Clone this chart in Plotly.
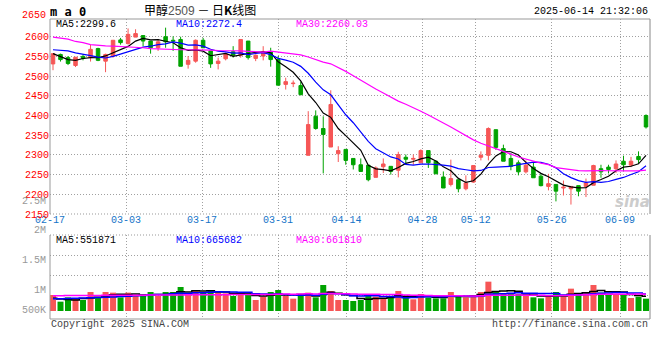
import pandas as pd
import plotly.graph_objects as go

# ---------------- data ----------------
holidays = ["2025-04-04", "2025-05-01", "2025-05-02", "2025-05-05", "2025-06-02"]
dates = [d for d in pd.bdate_range("2025-02-17", "2025-06-13") if d.strftime("%Y-%m-%d") not in holidays]
date_labels = [d.strftime("%m-%d") for d in dates]

tick_labels = ["02-17", "03-03", "03-17", "03-31", "04-14", "04-28", "05-12", "05-26", "06-09"]

open_ = [2531, 2555, 2547, 2527, 2550, 2547, 2570, 2538, 2551, 2592,
         2583, 2599, 2603, 2589, 2572, 2600, 2591, 2593, 2530, 2538,
         2591, 2564, 2532, 2544, 2562, 2553, 2589, 2545, 2551, 2562,
         2542, 2479, 2481, 2476, 2299, 2398, 2367, 2320, 2303, 2314,
         2291, 2275, 2274, 2243, 2270, 2271, 2261, 2294, 2289, 2280,
         2311, 2284, 2244, 2225, 2237, 2214, 2231, 2294, 2299, 2364,
         2316, 2291, 2280, 2257, 2269, 2246, 2220, 2225, 2216, 2214,
         2222, 2220, 2223, 2265, 2269, 2265, 2284, 2274, 2296, 2400]
high = [2557, 2557, 2551, 2548, 2555, 2579, 2572, 2557, 2591, 2597,
        2621, 2619, 2603, 2589, 2593, 2623, 2601, 2600, 2551, 2593,
        2597, 2564, 2547, 2559, 2576, 2594, 2589, 2555, 2576, 2572,
        2551, 2496, 2489, 2486, 2411, 2413, 2398, 2464, 2322, 2314,
        2291, 2291, 2274, 2271, 2291, 2271, 2308, 2301, 2301, 2314,
        2311, 2286, 2258, 2288, 2237, 2248, 2273, 2309, 2370, 2364,
        2326, 2305, 2286, 2286, 2280, 2254, 2252, 2225, 2235, 2220,
        2222, 2240, 2275, 2275, 2275, 2286, 2298, 2295, 2309, 2403]
low = [2515, 2537, 2528, 2523, 2540, 2537, 2538, 2510, 2547, 2580,
       2580, 2599, 2576, 2557, 2564, 2572, 2564, 2525, 2519, 2534,
       2572, 2521, 2517, 2540, 2547, 2547, 2542, 2538, 2540, 2524,
       2477, 2466, 2472, 2451, 2299, 2364, 2253, 2320, 2282, 2275,
       2263, 2258, 2233, 2243, 2254, 2250, 2243, 2275, 2275, 2280,
       2267, 2252, 2216, 2220, 2205, 2210, 2229, 2286, 2286, 2313,
       2284, 2261, 2248, 2253, 2242, 2220, 2210, 2182, 2197, 2174,
       2195, 2193, 2223, 2242, 2253, 2254, 2258, 2269, 2277, 2367]
close = [2557, 2542, 2532, 2548, 2545, 2568, 2540, 2555, 2591, 2585,
         2606, 2608, 2589, 2572, 2587, 2587, 2589, 2525, 2540, 2591,
         2572, 2531, 2538, 2556, 2553, 2593, 2547, 2553, 2562, 2542,
         2477, 2486, 2482, 2453, 2377, 2367, 2352, 2428, 2311, 2286,
         2275, 2258, 2237, 2267, 2277, 2258, 2301, 2289, 2291, 2311,
         2280, 2252, 2216, 2240, 2214, 2229, 2273, 2299, 2367, 2319,
         2284, 2271, 2257, 2274, 2242, 2222, 2227, 2208, 2218, 2220,
         2208, 2229, 2273, 2257, 2263, 2277, 2275, 2284, 2288, 2371]
volume = [629, 367, 537, 472, 432, 747, 537, 747, 721, 537,
          721, 590, 590, 747, 590, 747, 747, 943, 694, 825,
          721, 786, 721, 694, 590, 629, 721, 432, 563, 747,
          825, 590, 485, 616, 721, 537, 1022, 786, 432, 432,
          393, 432, 629, 563, 498, 537, 786, 537, 459, 668,
          537, 498, 498, 747, 590, 537, 629, 747, 1153, 747,
          668, 668, 668, 590, 537, 498, 590, 747, 563, 878,
          668, 721, 1022, 721, 655, 668, 668, 511, 563, 485]
volume = [v * 1000 for v in volume]

# moving-average values before the window fills
ma5_head = [2557, 2549, 2542, 2540]
ma10_head = [2567, 2566, 2564, 2559, 2556, 2552, 2548, 2546, 2550]
ma30_head = [2599, 2597, 2594, 2588, 2585, 2580, 2578, 2577, 2576, 2575,
             2575, 2574, 2572, 2570, 2569, 2568, 2567, 2567, 2567, 2567,
             2566, 2566, 2565, 2565, 2564, 2564, 2563, 2562, 2561]
vma5_head = [500000, 470000, 450000, 430000]
vma10_head = [480000, 485000, 490000, 500000, 510000, 520000, 535000, 545000, 555000]
vma30_head = [600000, 600000, 605000, 605000, 610000, 610000, 612000, 615000, 615000, 618000,
              620000, 620000, 622000, 625000, 625000, 628000, 630000, 632000, 635000, 635000,
              638000, 640000, 640000, 642000, 645000, 645000, 648000, 648000, 650000]

legend_main = ["MA5:2299.6", "MA10:2272.4", "MA30:2260.03"]
legend_vol = ["MA5:551871", "MA10:665682", "MA30:661810"]
price_ticks = [2150, 2200, 2250, 2300, 2350, 2400, 2450, 2500, 2550, 2600]
vol_labels = ["2.5M", "2M", "1.5M", "1M", "500K"]

# ---------------- derived ----------------
def rolling_with_head(vals, n, head):
    s = pd.Series(vals, dtype=float).rolling(n).mean()
    s.iloc[:len(head)] = head
    return s.tolist()

ma5 = rolling_with_head(close, 5, ma5_head)
ma10 = rolling_with_head(close, 10, ma10_head)
ma30 = rolling_with_head(close, 30, ma30_head)
vma5 = rolling_with_head(volume, 5, vma5_head)
vma10 = rolling_with_head(volume, 10, vma10_head)
vma30 = rolling_with_head(volume, 30, vma30_head)

idx = list(range(len(dates)))
RED = "#f65656"
GREEN = "#00a300"
BLUE = "#0000ff"
MAG = "#ff00ff"
GRID = "#a0a0a0"
BORDER = "#999999"
MONO = "Liberation Mono, DejaVu Sans Mono, monospace"

bar_colors = [RED if c >= o else GREEN for o, c in zip(open_, close)]
tickvals = [date_labels.index(t) * 1.0125 - 0.39 for t in tick_labels]

W, H = 660, 360
ML, MR, MT, MB = 50, 10, 19, 41
PW, PH = W - ML - MR, H - MT - MB

def px(x, y):
    return (x - ML) / PW, 1 - (y - MT) / PH

fig = go.Figure()
fig.add_trace(go.Candlestick(
    x=idx, open=open_, high=high, low=low, close=close,
    increasing=dict(line=dict(color=RED, width=1), fillcolor=RED),
    decreasing=dict(line=dict(color=GREEN, width=1), fillcolor=GREEN),
    whiskerwidth=0, xaxis="x", yaxis="y", showlegend=False, hoverinfo="skip"))
for vals, col in [(ma5, "#000000"), (ma10, BLUE), (ma30, MAG)]:
    fig.add_trace(go.Scatter(x=idx, y=vals, mode="lines", line=dict(color=col, width=1.2),
                             xaxis="x", yaxis="y", showlegend=False, hoverinfo="skip"))
fig.add_trace(go.Bar(x=idx, y=volume, marker=dict(color=bar_colors, line=dict(width=0)),
                     width=0.8, xaxis="x2", yaxis="y2", showlegend=False, hoverinfo="skip"))
for vals, col in [(vma5, "#000000"), (vma10, BLUE), (vma30, MAG)]:
    fig.add_trace(go.Scatter(x=idx, y=vals, mode="lines", line=dict(color=col, width=1.5, shape="hvh"),
                             xaxis="x2", yaxis="y2", showlegend=False, hoverinfo="skip"))

xr = [-0.4, 79.53]
main_bottom = 1 - (214 - MT) / PH
vol_top = 1 - (235 - MT) / PH
vk = 39300  # volume per pixel
vol_range = [-(MT + PH - 311) * vk, (311 - 235) * vk]
vol_grid = [(311 - y) * vk for y in (255.7, 275.3, 295)]

common = dict(automargin=False, zeroline=False, showline=False, ticks="",
              showgrid=True, gridcolor=GRID, griddash="1px,2px", gridwidth=1)
fig.update_layout(
    width=W, height=H, margin=dict(l=ML, r=MR, t=MT, b=MB, autoexpand=False),
    paper_bgcolor="white", plot_bgcolor="white", boxgap=0.33,
    xaxis=dict(domain=[0, 1], range=xr, anchor="y", tickvals=tickvals, ticktext=tick_labels,
               tickfont=dict(family=MONO, size=10, color="#1474c8"), ticklabelstandoff=-2,
               rangeslider=dict(visible=False), **common),
    yaxis=dict(domain=[main_bottom, 1], range=[2150, 2645], anchor="x", tickvals=price_ticks,
               tickfont=dict(family=MONO, size=10, color="#ff0000"), **common),
    xaxis2=dict(domain=[0, 1], range=xr, anchor="y2", tickvals=tickvals, showticklabels=False,
                **common),
    yaxis2=dict(domain=[0, vol_top], range=vol_range, anchor="x2", tickvals=vol_grid,
                showticklabels=False, **common),
)

shapes = []
def line(x0, y0, x1, y1, dash="solid", color=BORDER):
    shapes.append(dict(type="line", xref="paper", yref="paper", x0=x0, y0=y0, x1=x1, y1=y1,
                       line=dict(color=color, width=1, dash=dash)))
line(0, main_bottom, 0, 1)
line(1, main_bottom, 1, 1, color="#888888")
line(0, 1, 1, 1)
line(0, main_bottom, 1, main_bottom, dash="1px,2px")
line(0, 0, 0, vol_top)
line(1, 0, 1, vol_top, color="#888888")
line(0, 0, 1, 0)
line(0, vol_top, 1, vol_top, dash="1px,2px")
fig.update_layout(shapes=shapes)

anns = []
def text(x, y, t, color="#000000", size=10, xanchor="left", family=MONO, **kw):
    xp, yp = px(x, y)
    anns.append(dict(x=xp, y=yp, xref="paper", yref="paper", text=t, showarrow=False,
                     xanchor=xanchor, yanchor="middle", font=dict(family=family, size=size, color=color),
                     borderpad=0, **kw))

text(49, 12, "<b>m a 0</b>", size=12, family="DejaVu Sans Mono, monospace")
text(200, 10, "甲醇<span style='color:#555555;font-family:Liberation Sans'>2509</span> － 日<b>K</b>线图",
     size=12, xanchor="center", family="Noto Sans CJK SC")
text(649, 12, "2025-06-14 21:32:06", xanchor="right")
text(55, 24, legend_main[0], color="#000000")
text(175, 24, legend_main[1], color=BLUE)
text(295, 24, legend_main[2], color=MAG)
text(47, 16, "2650", color="#ff0000", xanchor="right")
for lab, yy in zip(vol_labels, [201, 230, 260.7, 290.7, 310.7]):
    text(47, yy, lab, color="#999999", xanchor="right")
text(55, 240, legend_vol[0], color="#000000")
text(175, 240, legend_vol[1], color=BLUE)
text(295, 240, legend_vol[2], color=MAG)
text(50, 324, "Copyright 2025 SINA.COM", color="#444444")
text(649, 324, "http://finance.sina.com.cn", color="#444444", xanchor="right")
text(632, 202, "<b><i>sina</i></b>", color="#cccccc", size=15, xanchor="center",
     family="DejaVu Sans, sans-serif")
fig.update_layout(annotations=anns)

fig.write_html("out.html", config={"displayModeBar": False},
               post_script="document.body.style.margin='0';document.body.style.padding='0';")
